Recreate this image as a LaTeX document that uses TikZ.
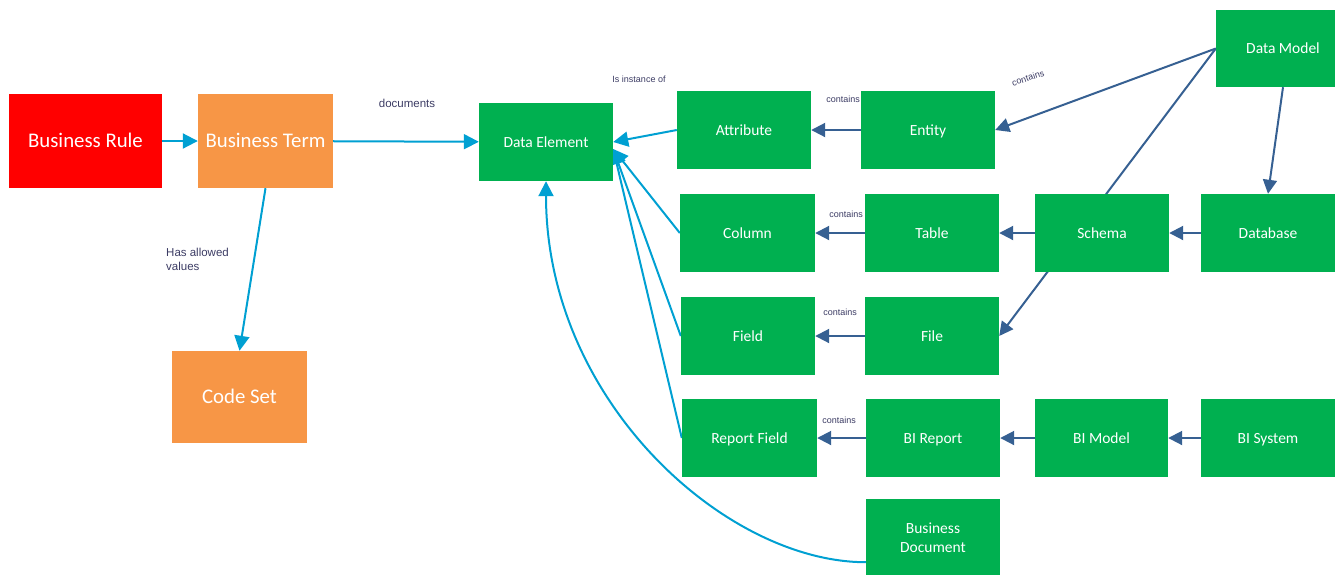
\documentclass[tikz,border=0pt]{standalone}
\usepackage{fontspec}
\setmainfont{Carlito}
\newfontfamily\labelfont{Liberation Sans}
\usetikzlibrary{arrows.meta,calc}
\pgfdeclarelayer{bg}
\pgfsetlayers{bg,main}

\definecolor{ruleRed}{RGB}{255,0,0}
\definecolor{termOrange}{RGB}{247,150,70}
\definecolor{elemGreen}{RGB}{0,176,80}
\definecolor{linkBlue}{RGB}{0,160,210}
\definecolor{containBlue}{RGB}{54,96,146}
\definecolor{labelInk}{RGB}{60,60,100}

\tikzset{
  box/.style={rectangle, fill=elemGreen, text=white, inner sep=0pt,
    minimum width=134pt, minimum height=78pt,
    text height=10pt, text depth=0pt,
    font=\fontsize{15.5}{19}\selectfont},
  twoline/.style={align=center, text height={}, text depth={}},
  bigbox/.style={box, text height=13.3pt, font=\fontsize{20.8}{24}\selectfont},
  link/.style={draw=linkBlue, line width=2pt,
    -{Triangle[length=15pt,width=15pt]}},
  contain/.style={draw=containBlue, line width=2pt,
    -{Triangle[length=14pt,width=14pt]}},
  lbl/.style={text=labelInk, inner sep=0pt,
    font=\labelfont\fontsize{11.5}{14}\selectfont},
  smalllbl/.style={lbl, font=\labelfont\fontsize{9}{11}\selectfont}
}

\begin{document}
\begin{tikzpicture}[x=1pt,y=-1pt]
\useasboundingbox (0,0) rectangle (1335,574);

% business vocabulary
\node[bigbox, fill=ruleRed, minimum width=153pt, minimum height=94pt] (br) at (85.5,141) {Business Rule};
\node[bigbox, fill=termOrange, minimum width=135pt, minimum height=94pt] (bt) at (265.5,141) {Business Term};
\node[bigbox, fill=termOrange, minimum width=135pt, minimum height=92pt] (cs) at (239.5,397) {Code Set};

% data element and its sources
\node[box] (de) at (546,142) {Data Element};
\node[box] (attr) at (744,130) {Attribute};
\node[box] (ent) at (928,130) {Entity};
\node[box, minimum height=77pt] (dm) at (1283,48.5) {Data Model};

\node[box, minimum width=135pt] (col) at (747.5,233) {Column};
\node[box] (tab) at (932,233) {Table};
\node[box] (sch) at (1102,233) {Schema};
\node[box] (db) at (1268,233) {Database};

\node[box] (fld) at (748,336) {Field};
\node[box] (file) at (932,336) {File};

\node[box, minimum width=135pt] (rf) at (749.5,438) {Report Field};
\node[box] (bir) at (933,438) {BI Report};
\node[box, minimum width=133pt] (bim) at (1101.5,438) {BI Model};
\node[box] (bis) at (1268,438) {BI System};

\node[box, twoline] (bd) at (933,538) {Business\\Document};

\begin{pgfonlayer}{bg}
  % business layer
  \draw[link] (br) -- (bt);
  \draw[link] (bt) -- (de);
  \draw[link] (bt.south) -- (cs.north);

  % instances of the data element
  \draw[link] (attr.west) -- (de.east);
  \coordinate (deIn) at ($(de.east)+(0,7)$);
  \draw[link] (col.west) -- (deIn);
  \draw[link] (fld.west) -- (deIn);
  \draw[link] (rf.west) -- (deIn);
  \draw[link] ($(bd.south west)+(0,-15)$) .. controls +(-140,0) and +(0,220) .. (de.south);

  % containment
  \draw[contain] (ent) -- (attr);
  \draw[contain] (dm.west) -- (ent.east);
  \draw[contain] (dm.west) -- (file.east);
  \draw[contain] (dm.south) -- (db.north);
  \draw[contain] (db) -- (sch);
  \draw[contain] (sch) -- (tab);
  \draw[contain] (tab) -- (col);
  \draw[contain] (file) -- (fld);
  \draw[contain] (bis) -- (bim);
  \draw[contain] (bim) -- (bir);
  \draw[contain] (bir) -- (rf);
\end{pgfonlayer}

% connector labels
\node[lbl] (lDoc) at (407,103) {documents};
\node[lbl, anchor=north west, align=left] (lVal) at (166,248) {Has allowed\\values};
\node[smalllbl] (lInst) at (639,79) {Is instance of};
\node[smalllbl] (lC1) at (843,99) {contains};
\node[smalllbl, rotate=18] (lC2) at (1028,78) {contains};
\node[smalllbl] (lC3) at (846,214) {contains};
\node[smalllbl] (lC4) at (840,312) {contains};
\node[smalllbl] (lC5) at (839,420) {contains};
\end{tikzpicture}
\end{document}
